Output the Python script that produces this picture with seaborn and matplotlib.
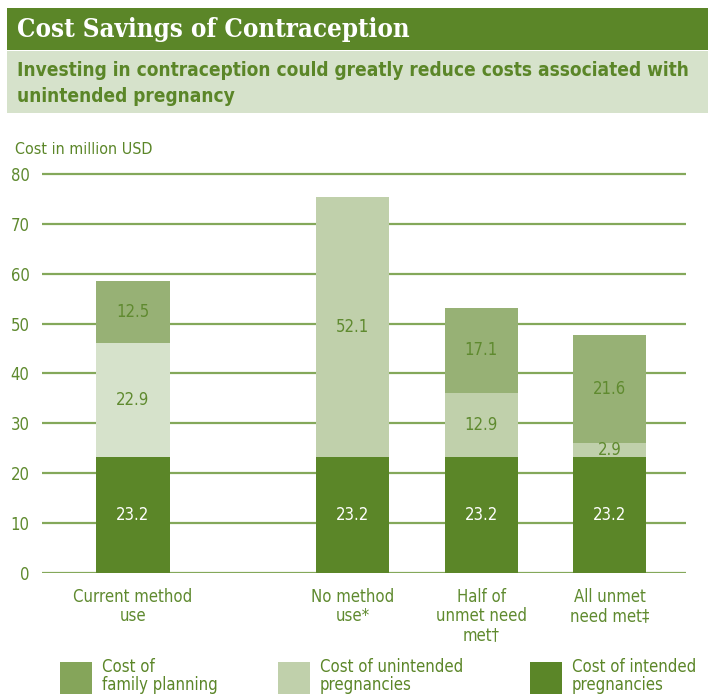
import matplotlib
matplotlib.use("Agg")
import matplotlib.pyplot as plt
from matplotlib.patches import Patch, Rectangle
import numpy as np
import pandas as pd
import seaborn as sns

# ---- data -------------------------------------------------------------
scenarios = ["Current method\nuse", "No method\nuse*", "Half of\nunmet need\nmet\u2020",
             "All unmet\nneed met\u2021"]
intended = [23.2, 23.2, 23.2, 23.2]
unintended = [22.9, 52.1, 12.9, 2.9]
family_planning = [12.5, 0.0, 17.1, 21.6]
yticks = [0, 10, 20, 30, 40, 50, 60, 70, 80]

series_names = ["Cost of\nfamily planning", "Cost of unintended\npregnancies",
                "Cost of intended\npregnancies"]

# ---- layout / style ---------------------------------------------------
slot = [0.0, 1.71, 2.71, 3.71]          # horizontal slot of each scenario
legend_x_px = [60, 278, 530]             # left edge of each legend swatch
DARK = "#5b8628"
TEXT = "#5f8a2f"
C_FP = "#97b175"
C_UN = "#c0d0ab"
C_UN_CURRENT = "#d6e2cb"
C_IN = DARK
LEGEND_COLORS = ["#85a55a", "#c0d0ab", "#5b8628"]
GRID = "#84a85a"

sns.set_theme(style="white")
FAM = ["Liberation Sans Narrow", "DejaVu Sans"]
plt.rcParams["font.family"] = FAM
plt.rcParams["font.stretch"] = "condensed"

df = pd.DataFrame({
    "scenario": scenarios,
    "pos": slot,
    "intended": intended,
    "unintended": unintended,
    "fp": family_planning,
})
df["lvl1"] = df["intended"]
df["lvl2"] = df["intended"] + df["unintended"]
df["lvl3"] = df["lvl2"] + df["fp"]

W, H = 708, 696
fig = plt.figure(figsize=(W / 100, H / 100), dpi=100)
fig.patch.set_facecolor("white")

# header bands
fig.patches.append(Rectangle((7 / W, 1 - 50 / H), 1, 42 / H, transform=fig.transFigure,
                             facecolor="#5b8628", edgecolor="none", zorder=0))
fig.patches.append(Rectangle((7 / W, 1 - 113 / H), 1, 62 / H, transform=fig.transFigure,
                             facecolor="#d6e2cb", edgecolor="none", zorder=0))
fig.text(17 / W, 1 - 29 / H, "Cost Savings of Contraception", color="white",
         fontsize=18.5, fontweight="bold", family=["DejaVu Serif"], fontstretch="condensed",
         va="center", ha="left")
fig.text(17 / W, 1 - 70 / H, "Investing in contraception could greatly reduce costs associated with",
         color=DARK, fontsize=13.7, fontweight="bold", va="center", ha="left")
fig.text(17 / W, 1 - 97 / H, "unintended pregnancy",
         color=DARK, fontsize=13.7, fontweight="bold", va="center", ha="left")
fig.text(15 / W, 1 - 150 / H, "Cost in million USD", color=DARK, fontsize=11.5,
         va="center", ha="left")

# axes placement
left, right = 42 / W, 686 / W
bottom = 1 - 573 / H
top = 1 - 169 / H
ax = fig.add_axes([left, bottom, right - left, top - bottom])

# stacked bars: draw cumulative heights back to front
palette_un = {s: (C_UN_CURRENT if i == 0 else C_UN) for i, s in enumerate(scenarios)}
sns.barplot(data=df, x="pos", y="lvl3", color=C_FP, native_scale=True, width=0.57,
            saturation=1, ax=ax, zorder=3, errorbar=None)
sns.barplot(data=df, x="pos", y="lvl2", hue="scenario", palette=palette_un, dodge=False,
            native_scale=True, width=0.57, saturation=1, ax=ax, zorder=4,
            errorbar=None, legend=False)
sns.barplot(data=df, x="pos", y="lvl1", color=C_IN, native_scale=True, width=0.57,
            saturation=1, ax=ax, zorder=5, errorbar=None)
for p in ax.patches:
    p.set_edgecolor("none")
    p.set_linewidth(0)

# value labels
for _, r in df.iterrows():
    ax.text(r["pos"], r["intended"] / 2, f"{r['intended']:.1f}", color="white",
            ha="center", va="center", fontsize=12, zorder=10)
    if r["unintended"] > 0:
        ax.text(r["pos"], r["intended"] + r["unintended"] / 2, f"{r['unintended']:.1f}",
                color=TEXT, ha="center", va="center", fontsize=12, zorder=10)
    if r["fp"] > 0:
        ax.text(r["pos"], r["lvl2"] + r["fp"] / 2, f"{r['fp']:.1f}",
                color=TEXT, ha="center", va="center", fontsize=12, zorder=10)

ax.set_xlim(-0.708, 4.303)
ax.set_ylim(0, 81)
ax.set_yticks(yticks)
ax.set_yticklabels([str(v) for v in yticks])
ax.set_xticks(slot)
ax.set_xticklabels(scenarios)
ax.tick_params(axis="y", length=0, pad=9, labelsize=12, labelcolor=TEXT)
ax.tick_params(axis="x", length=0, pad=11, labelsize=12, labelcolor=TEXT)
for lab in ax.get_xticklabels():
    lab.set_linespacing(1.05)
    lab.set_va("top")
ax.set_xlabel("")
ax.set_ylabel("")
for s in ax.spines.values():
    s.set_visible(False)
ax.grid(axis="y", color=GRID, linewidth=1.6, zorder=0)
ax.set_axisbelow(True)
ax.set_facecolor("none")

# legend: one entry per series, each anchored at its own swatch position
for name, col, xp in zip(series_names, LEGEND_COLORS, legend_x_px):
    leg = fig.legend([Patch(facecolor=col, edgecolor="none")], [name],
                     loc="center left", bbox_to_anchor=(xp / W, 1 - 676 / H),
                     frameon=False, fontsize=12, handlelength=1.92, handleheight=2.58,
                     handletextpad=0.6, borderpad=0, borderaxespad=0, labelcolor=DARK)
    for t in leg.get_texts():
        t.set_linespacing(1.05)

fig.savefig("out.png", dpi=100, facecolor="white")
